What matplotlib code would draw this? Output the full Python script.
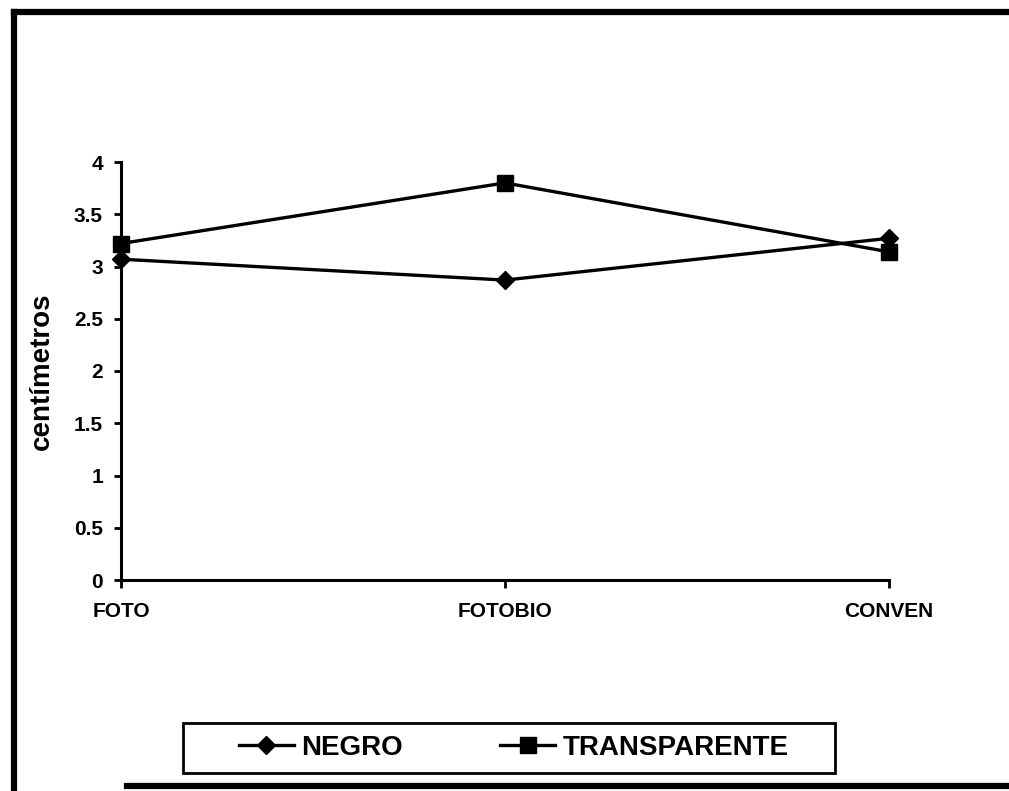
import matplotlib
matplotlib.use("Agg")
import matplotlib.pyplot as plt
from matplotlib.lines import Line2D
from matplotlib.patches import Rectangle

plt.rcParams['font.family'] = ['Liberation Sans', 'DejaVu Sans']
plt.rcParams['font.weight'] = 'bold'

categories = ["FOTO", "FOTOBIO", "CONVEN"]
negro = [3.07, 2.87, 3.27]
transparente = [3.22, 3.80, 3.14]
y_ticks = [0, 0.5, 1, 1.5, 2, 2.5, 3, 3.5, 4]
y_tick_labels = ["0", "0.5", "1", "1.5", "2", "2.5", "3", "3.5", "4"]

W, H = 1009, 791
fig = plt.figure(figsize=(W / 100, H / 100), dpi=100)
fig.patch.set_facecolor("white")

ax = fig.add_axes([121 / W, 1 - 580 / H, (889 - 121) / W, (580 - 162) / H])
x = range(len(categories))
ax.plot(x, negro, color="black", lw=2.4, marker="D", ms=9, label="NEGRO",
        clip_on=False, zorder=3)
ax.plot(x, transparente, color="black", lw=2.4, marker="s", ms=11,
        label="TRANSPARENTE", clip_on=False, zorder=3)

ax.set_xlim(0, 2)
ax.set_ylim(0, 4)
ax.set_xticks(list(x))
ax.set_xticklabels(categories, fontsize=15, fontweight="bold")
ax.set_yticks(y_ticks)
ax.set_yticklabels(y_tick_labels, fontsize=15, fontweight="bold")
for s in ("top", "right"):
    ax.spines[s].set_visible(False)
for s in ("left", "bottom"):
    ax.spines[s].set_linewidth(2.2)
ax.tick_params(axis="y", direction="out", length=5, width=2, pad=8)
ax.tick_params(axis="x", direction="out", length=6, width=2, pad=10)
ax.set_ylabel("centímetros", fontsize=20, fontweight="bold")
ax.yaxis.set_label_coords(-66 / (889 - 121), 0.5)

# legend entries, with a separately drawn box around them
handles = [
    Line2D([], [], color="black", lw=2.4, marker="D", ms=9),
    Line2D([], [], color="black", lw=2.4, marker="s", ms=11),
]
leg = fig.legend(handles, ["NEGRO", "TRANSPARENTE"], loc="center",
                 bbox_to_anchor=(513.5 / W, 1 - 748 / H), ncol=2,
                 prop={"weight": "bold", "size": 20}, frameon=False,
                 handlelength=2.0, handletextpad=0.25, columnspacing=3.5,
                 borderpad=0, borderaxespad=0)
fig.add_artist(Rectangle((183 / W, 1 - 773 / H), (835 - 183) / W, 50 / H,
                         transform=fig.transFigure, fill=False,
                         edgecolor="black", lw=2.0))

# outer frame of the figure
frame_kw = dict(color="black", lw=4.5, transform=fig.transFigure, clip_on=False)
fig.add_artist(Line2D([14 / W, 1.0], [1 - 12 / H, 1 - 12 / H], **frame_kw))
fig.add_artist(Line2D([14 / W, 14 / W], [1 - 12 / H, 0.0], **frame_kw))
fig.add_artist(Line2D([127 / W, 1.0], [1 - 786 / H, 1 - 786 / H], **frame_kw))

fig.savefig("out.png", dpi=100, facecolor="white")
